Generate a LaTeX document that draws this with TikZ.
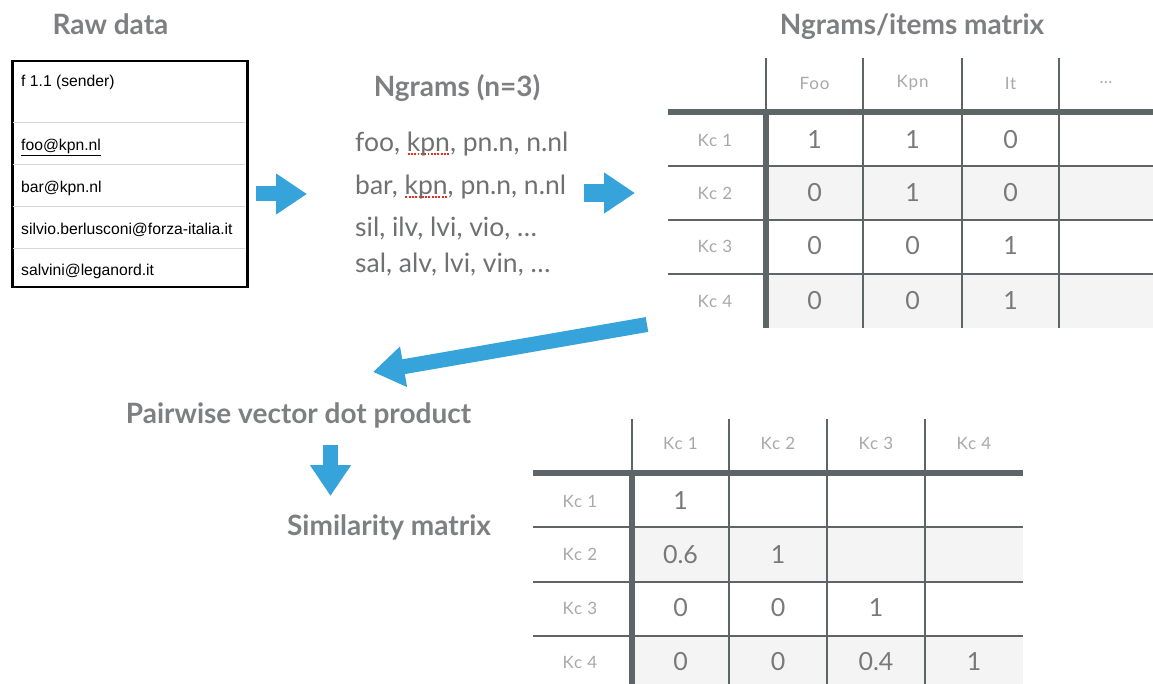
\documentclass[tikz,border=0pt]{standalone}
\usepackage{fontspec}
\setmainfont{Lato}
\newfontfamily\rawfont{Liberation Sans}
\newfontfamily\labelfont[LetterSpace=5]{Lato}
\usetikzlibrary{arrows.meta}

\definecolor{titlegray}{HTML}{7E7F81}
\definecolor{ngramgray}{HTML}{6F7072}
\definecolor{labelgray}{HTML}{A7A8A9}
\definecolor{valgray}{HTML}{78797B}
\definecolor{gridgray}{HTML}{5E6567}
\definecolor{rowshade}{HTML}{F4F4F4}
\definecolor{arrowblue}{HTML}{36A3DA}
\definecolor{spellred}{HTML}{EE2A22}
\definecolor{rawsep}{HTML}{D6D6D6}

% red dotted spell-check mark under a word
\newlength\spellw
\newcommand\spellchk[1]{\settowidth\spellw{#1}%
  \rlap{\color{spellred}\raisebox{-3pt}{\hbox to \spellw{\xleaders\hbox to 3.2pt{\hss\rule{1.9pt}{1.6pt}\hss}\hfill}}}#1}

\begin{document}
\begin{tikzpicture}[x=1pt,y=-1pt,
  title/.style={font=\fontsize{28}{30}\selectfont\bfseries, text=titlegray, inner sep=0pt, anchor=base},
  ngram/.style={font=\fontsize{26.5}{28}\selectfont, text=ngramgray, inner sep=0pt, anchor=base west},
  rawtext/.style={font=\rawfont\fontsize{15.7}{18}\selectfont, text=black, inner sep=0pt, anchor=base west},
  hdr/.style={font=\labelfont\fontsize{17}{19}\selectfont, text=labelgray, inner sep=0pt},
  val/.style={font=\fontsize{25}{27}\selectfont, text=valgray, inner sep=0pt},
  gridthin/.style={draw=gridgray, line width=2pt},
  gridthick/.style={draw=gridgray, line width=6pt},
  blockarrow/.style={draw=arrowblue, -{Triangle[length=31pt, width=39pt, fill=arrowblue]}},
]
\useasboundingbox (0,0) rectangle (1153,684);

% ---------------- raw data ----------------
\node[title] (rawtitle) at (110.5,35) {Raw data};
\node[draw=black, line width=2.5pt, minimum width=235pt, minimum height=226pt,
      inner sep=0pt, anchor=north west] (rawtable) at (11,60) {};
\foreach \y in {123,165,207,249}
  \draw[rawsep, line width=1pt] (12.5,\y) -- (244.5,\y);
\node[rawtext] (rawhead) at (21,87) {f 1.1 (sender)};
\node[rawtext] (raw1) at (21,151) {\underline{foo@kpn.nl}};
\node[rawtext] (raw2) at (21,193) {bar@kpn.nl};
\node[rawtext] (raw3) at (21,235) {silvio.berlusconi@forza-italia.it};
\node[rawtext] (raw4) at (21,276) {salvini@leganord.it};

% ---------------- ngrams ----------------
\node[title] (ngtitle) at (457,97) {Ngrams (n=3)};
\node[ngram] (ng1) at (355,152) {foo, \spellchk{kpn}, pn.n, n.nl};
\node[ngram] (ng2) at (355,195) {bar, \spellchk{kpn}, pn.n, n.nl};
\node[ngram] (ng3) at (355,237) {sil, ilv, lvi, vio, …};
\node[ngram] (ng4) at (355,273) {sal, alv, lvi, vin, …};

% ---------------- ngrams/items matrix ----------------
\node[title] (ittitle) at (912,35) {Ngrams/items matrix};
\fill[rowshade] (766,166) rectangle (1153,220);
\fill[rowshade] (766,274) rectangle (1153,328);
\foreach \x in {863,962,1059} \draw[gridthin] (\x,58) -- (\x,328);
\draw[gridthin] (766,58) -- (766,112);
\foreach \y in {166,220,274} \draw[gridthin] (668,\y) -- (1153,\y);
\draw[gridthick] (668,112) -- (1153,112);
\draw[gridthick] (766,112) -- (766,328);
\foreach \t/\x [count=\i] in {Foo/814.5, Kpn/912.5, It/1010.5, …/1106}
  \node[hdr] (ih\i) at (\x,83) {\t};
\foreach \y/\a/\b/\c [count=\i] in {140/1/1/0, 193/0/1/0, 246/0/0/1, 301/0/0/1} {
  \node[hdr] (ir\i) at (715,\y) {Kc \i};
  \node[val] (iv\i-1) at (814.5,\y) {\a};
  \node[val] (iv\i-2) at (912.5,\y) {\b};
  \node[val] (iv\i-3) at (1010.5,\y) {\c};
}

% ---------------- dot product / similarity ----------------
\node[title] (dottitle) at (298.5,423) {Pairwise vector dot product};
\node[title] (simtitle) at (389,535) {Similarity matrix};

\fill[rowshade] (632,527) rectangle (1023,582);
\fill[rowshade] (632,636) rectangle (1023,684);
\foreach \x in {729,827,925} \draw[gridthin] (\x,419) -- (\x,684);
\draw[gridthin] (632,419) -- (632,473);
\foreach \y in {527,582,636} \draw[gridthin] (533,\y) -- (1023,\y);
\draw[gridthick] (533,473) -- (1023,473);
\draw[gridthick] (632,473) -- (632,684);
\foreach \x [count=\i] in {680.5,778,876,974}
  \node[hdr] (sh\i) at (\x,443) {Kc \i};
\foreach \y [count=\i] in {501,554.5,608,662}
  \node[hdr] (sr\i) at (580,\y) {Kc \i};
\node[val] (s11) at (680.5,501) {1};
\node[val] (s21) at (680.5,554.5) {0.6};
\node[val] (s22) at (778,554.5) {1};
\node[val] (s31) at (680.5,608) {0};
\node[val] (s32) at (778,608) {0};
\node[val] (s33) at (876,608) {1};
\node[val] (s41) at (680.5,662) {0};
\node[val] (s42) at (778,662) {0};
\node[val] (s43) at (876,662) {0.4};
\node[val] (s44) at (974,662) {1};

% ---------------- arrows ----------------
\coordinate (a1s) at (256,194);
\coordinate (a1e) at (307,194);
\coordinate (a2s) at (584,193);
\coordinate (a2e) at (635,193);
\coordinate (a3s) at (647,324.5);
\coordinate (a3e) at (373,372);
\coordinate (a4s) at (330.5,445);
\coordinate (a4e) at (330.5,496);
\draw[blockarrow, line width=15pt] (a1s) -- (a1e);
\draw[blockarrow, line width=18pt] (a2s) -- (a2e);
\draw[blockarrow, line width=15pt] (a3s) -- (a3e);
\draw[blockarrow, line width=15pt] (a4s) -- (a4e);
\end{tikzpicture}
\end{document}
